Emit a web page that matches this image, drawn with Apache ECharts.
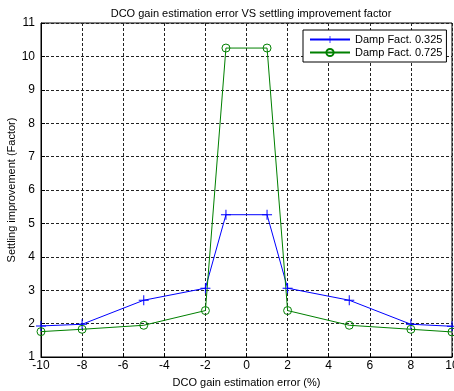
<!DOCTYPE html>
<html><head><meta charset="utf-8">
<script src="https://cdn.jsdelivr.net/npm/echarts@6/dist/echarts.min.js"></script>
<style>html,body{margin:0;padding:0;background:#fff}#c{width:454px;height:391px}</style>
</head><body><div id="c"></div>
<script>
const xValues = [-10, -8, -5, -2, -1, 1, 2, 5, 8, 10];
const damp0325 = [1.93, 1.98, 2.70, 3.06, 5.26, 5.26, 3.06, 2.70, 1.98, 1.92];
const damp0725 = [1.76, 1.83, 1.95, 2.39, 10.25, 10.25, 2.39, 1.95, 1.83, 1.75];
const seriesNames = ['Damp Fact. 0.325', 'Damp Fact. 0.725'];
const titleText = 'DCO gain estimation error VS settling improvement factor';
const xName = 'DCO gain estimation error (%)';
const yName = 'Settling improvement (Factor)';

const font = 'Liberation Sans, Arial, sans-serif';
const plus = 'path://M4.5,0H5.5V4.5H10V5.5H5.5V10H4.5V5.5H0V4.5H4.5Z';
const chart = echarts.init(document.getElementById('c'), null, {renderer: 'canvas'});
const gridLine = {show: true, lineStyle: {color: '#222', type: [3, 2], width: 1}};
chart.setOption({
  animation: false,
  backgroundColor: '#fff',
  title: {text: titleText, left: 246, textAlign: 'center', top: 3,
    textStyle: {fontSize: 11, fontWeight: 'normal', color: '#000', fontFamily: font}},
  grid: {left: 41, right: 2, top: 23, bottom: 34, show: true, borderColor: '#000', borderWidth: 1,
    backgroundColor: 'transparent', containLabel: false, outerBoundsMode: 'none'},
  legend: {orient: 'vertical', left: 303, top: 30, padding: [4, 4, 4, 6], itemGap: 2,
    itemWidth: 40, itemHeight: 9, backgroundColor: '#fff', borderColor: '#000', borderWidth: 1,
    textStyle: {fontSize: 11, color: '#000', fontFamily: font}, data: seriesNames},
  xAxis: {type: 'value', min: -10, max: 10, interval: 2,
    name: xName, nameLocation: 'middle', nameGap: 20, nameMoveOverlap: false,
    nameTextStyle: {fontSize: 11, color: '#000', fontFamily: font},
    axisLine: {show: true, onZero: false, lineStyle: {color: '#000'}},
    axisTick: {show: true, inside: true, length: 4, lineStyle: {color: '#000'}},
    axisLabel: {fontSize: 12, color: '#000', fontFamily: font, margin: 3},
    splitLine: gridLine},
  yAxis: {type: 'value', min: 1, max: 11, interval: 1,
    name: yName, nameLocation: 'middle', nameGap: 24, nameRotate: 90, nameMoveOverlap: false,
    nameTextStyle: {fontSize: 11, color: '#000', fontFamily: font},
    axisLine: {show: true, onZero: false, lineStyle: {color: '#000'}},
    axisTick: {show: true, inside: true, length: 4, lineStyle: {color: '#000'}},
    axisLabel: {fontSize: 12, color: '#000', fontFamily: font, margin: 6},
    splitLine: gridLine},
  series: [
    {name: seriesNames[0], type: 'line', data: xValues.map((x, i) => [x, damp0325[i]]),
      symbol: plus, symbolSize: 10, showAllSymbol: true,
      lineStyle: {color: '#0000ff', width: 1}, itemStyle: {color: '#0000ff'}},
    {name: seriesNames[1], type: 'line', data: xValues.map((x, i) => [x, damp0725[i]]),
      symbol: 'circle', symbolSize: 8, showAllSymbol: true,
      lineStyle: {color: '#008000', width: 1},
      itemStyle: {color: 'rgba(255,255,255,0)', borderColor: '#008000', borderWidth: 1}}
  ]
});
</script></body></html>
